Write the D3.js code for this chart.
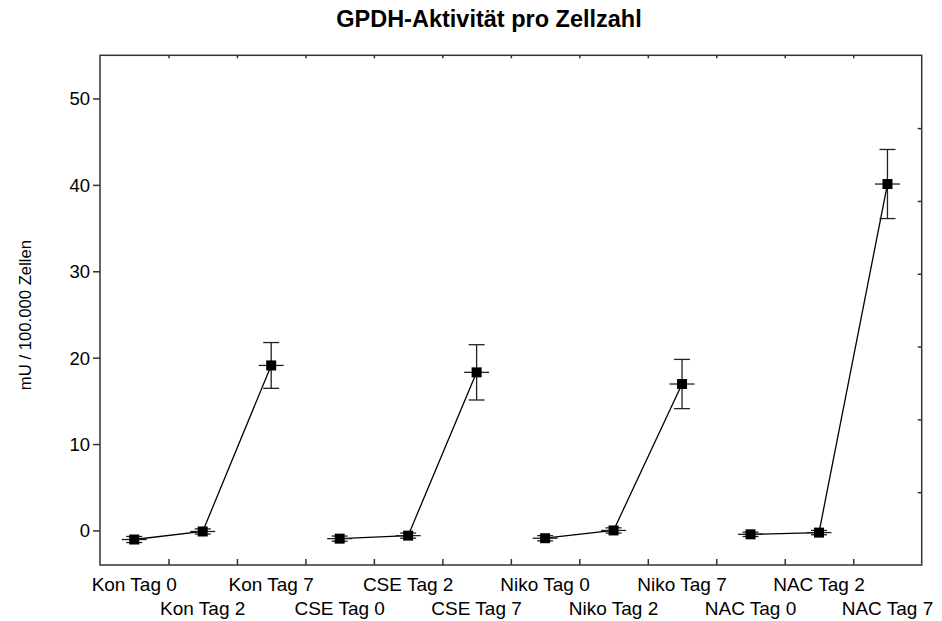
<!DOCTYPE html>
<html>
<head>
<meta charset="utf-8">
<script src="https://cdn.jsdelivr.net/npm/d3@7"></script>
<style>
  body { margin: 0; background: #fff; }
  text { font-family: "Liberation Sans", Arial, sans-serif; fill: #000; }
</style>
</head>
<body>
<div id="place"></div>
<script>
// Werte
const categories = ["Kon Tag 0", "Kon Tag 2", "Kon Tag 7",
  "CSE Tag 0", "CSE Tag 2", "CSE Tag 7",
  "Niko Tag 0", "Niko Tag 2", "Niko Tag 7",
  "NAC Tag 0", "NAC Tag 2", "NAC Tag 7"];
const groups = ["Kon", "Kon", "Kon", "CSE", "CSE", "CSE", "Niko", "Niko", "Niko", "NAC", "NAC", "NAC"];
const means = [-1.05, -0.12, 19.1, -0.95, -0.6, 18.3, -0.9, 0.0, 16.95, -0.45, -0.25, 40.1];
const errors = [0.35, 0.3, 2.65, 0.3, 0.3, 3.2, 0.3, 0.3, 2.85, 0.25, 0.25, 4.0];
const yTicks = [0, 10, 20, 30, 40, 50];

const title = "GPDH-Aktivität pro Zellzahl";
const yLabel = "mU / 100.000 Zellen";

const W = 942, H = 621;
const margin = { top: 55.3, right: 20.3, bottom: 56, left: 100 };
const width = W - margin.left - margin.right,
  height = H - margin.top - margin.bottom;

const svg = d3.select("#place").append("svg")
  .attr("width", W).attr("height", H);

const g = svg.append("g")
  .attr("transform", "translate(" + margin.left + "," + margin.top + ")");

const x = d3.scaleBand().domain(categories).range([0, width]);
const xb = d3.scaleLinear().domain([0, categories.length]).range([0, width]);
const y = d3.scaleLinear().domain([-4, 55]).range([height, 0]);
const yr = d3.scaleLinear().domain([0, 7]).range([height, 0]);

const data = categories.map((c, i) => ({ cat: c, grp: groups[i], v: means[i], e: errors[i] }));

// Rahmen
g.append("rect")
  .attr("width", width).attr("height", height)
  .attr("fill", "none").attr("stroke", "#333").attr("stroke-width", 1.5);

// Achsen
const axisL = g.append("g")
  .call(d3.axisLeft(y).tickValues(yTicks).tickSize(7).tickPadding(3));
axisL.selectAll("text").style("font-size", "18.5px").attr("dy", "0.35em");

const axisB = g.append("g")
  .attr("transform", "translate(0," + height + ")")
  .call(d3.axisBottom(xb).tickValues(d3.range(1, categories.length)).tickSize(-6).tickFormat(""));

const axisT = g.append("g")
  .call(d3.axisTop(xb).tickValues(d3.range(1, categories.length)).tickSize(-3).tickFormat(""));

const axisR = g.append("g")
  .attr("transform", "translate(" + width + ",0)")
  .call(d3.axisRight(yr).tickValues(d3.range(1, 7)).tickSize(-4).tickFormat(""));

[axisL, axisB, axisT, axisR].forEach(a => {
  a.select(".domain").remove();
  a.selectAll("line").attr("stroke", "#333").attr("stroke-width", 1.5);
});

// Kategorien, abwechselnd in zwei Reihen
g.selectAll(".cat")
  .data(categories).enter()
  .append("text")
  .attr("class", "cat")
  .attr("x", d => x(d) + x.bandwidth() / 2)
  .attr("y", (d, i) => height + (i % 2 === 0 ? 26.5 : 50))
  .attr("text-anchor", "middle")
  .style("font-size", "19px")
  .text(d => d);

// Linien pro Gruppe
const line = d3.line()
  .x(d => x(d.cat) + x.bandwidth() / 2)
  .y(d => y(d.v));

d3.groups(data, d => d.grp).forEach(([key, vals]) => {
  g.append("path")
    .datum(vals)
    .attr("d", line)
    .attr("fill", "none")
    .attr("stroke", "#000")
    .attr("stroke-width", 1.3);
});

// Fehlerbalken
const eb = g.selectAll(".eb")
  .data(data).enter()
  .append("g")
  .attr("class", "eb")
  .attr("transform", d => "translate(" + (x(d.cat) + x.bandwidth() / 2) + ",0)")
  .attr("stroke", "#222").attr("stroke-width", 1.3);

eb.append("line")
  .attr("y1", d => y(d.v - d.e)).attr("y2", d => y(d.v + d.e));
eb.append("line")
  .attr("x1", -8).attr("x2", 8)
  .attr("y1", d => y(d.v + d.e)).attr("y2", d => y(d.v + d.e));
eb.append("line")
  .attr("x1", -8).attr("x2", 8)
  .attr("y1", d => y(d.v - d.e)).attr("y2", d => y(d.v - d.e));
eb.append("line")
  .attr("x1", -12.5).attr("x2", 12.5)
  .attr("y1", d => y(d.v)).attr("y2", d => y(d.v));

g.selectAll(".pt")
  .data(data).enter()
  .append("rect")
  .attr("class", "pt")
  .attr("x", d => x(d.cat) + x.bandwidth() / 2 - 5)
  .attr("y", d => y(d.v) - 5)
  .attr("width", 10).attr("height", 10)
  .attr("fill", "#000");

// Titel und Achsentitel
svg.append("text")
  .attr("x", 489).attr("y", 27)
  .attr("text-anchor", "middle")
  .style("font-size", "23.5px").style("font-weight", "bold")
  .text(title);

svg.append("text")
  .attr("transform", "translate(31,315) rotate(-90)")
  .attr("text-anchor", "middle")
  .style("font-size", "16.7px")
  .text(yLabel);
</script>
</body>
</html>
